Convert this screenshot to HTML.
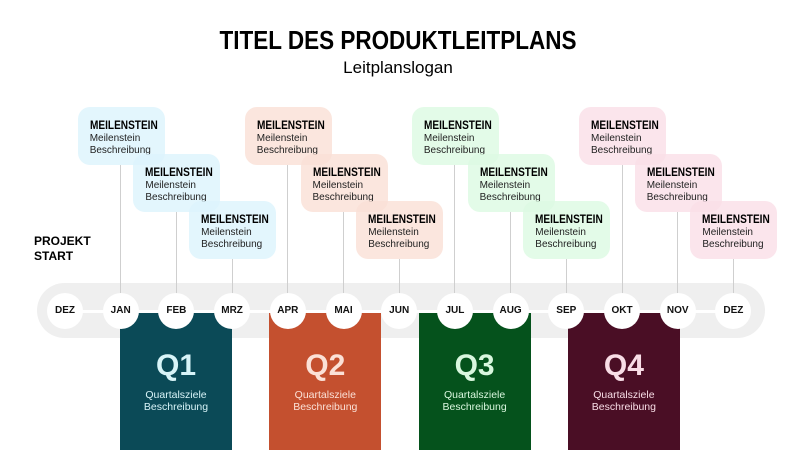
<!DOCTYPE html>
<html><head><meta charset="utf-8"><style>
body{margin:0;width:796px;height:450px;background:#fff;overflow:hidden;font-family:"Liberation Sans",sans-serif;position:relative}
.a{position:absolute}
.title{left:0;width:796px;top:25px;text-align:center;font-weight:bold;font-size:26px;color:#000;transform:scaleX(0.865)}
.sub{left:0;width:796px;top:58px;text-align:center;font-size:17px;color:#000}
.ms{position:absolute;width:87px;height:58px;border-radius:12px;box-sizing:border-box;padding:12px 0 0 12px;font-size:10px;line-height:12px;color:#222}
.ms b{display:block;font-size:12px;color:#000;margin-bottom:2px;transform:scaleX(0.84);transform-origin:left;white-space:nowrap}
.line{position:absolute;width:1px;background:#cfcfcf}
.circ{position:absolute;width:36px;height:36px;border-radius:50%;background:#fff;text-align:center;line-height:36px;font-size:10px;font-weight:bold;color:#111}
.q{position:absolute;top:313px;width:112px;height:137px;text-align:center}
.q .n{font-size:30px;font-weight:bold;margin-top:36px}
.q .d{font-size:10.5px;line-height:12px;margin-top:6px}
</style></head><body>
<div class="a title">TITEL DES PRODUKTLEITPLANS</div>
<div class="a sub">Leitplanslogan</div>
<div class="a" style="left:34px;top:234px;font-weight:bold;font-size:12px;line-height:15px">PROJEKT<br>START</div>
<div class="a" style="left:37px;top:283px;width:728px;height:55px;border-radius:28px;background:#efefef"></div>
<div class="a" style="left:65px;top:310px;width:668px;height:3px;background:#fff"></div>
<div id="root"></div>
<script>
const months=["DEZ","JAN","FEB","MRZ","APR","MAI","JUN","JUL","AUG","SEP","OKT","NOV","DEZ"];
const quarters=["Q1","Q2","Q3","Q4"];
const qColors=["#0b4a57","#c4502f","#05521c","#4a0e25"];
const qText=["#d8f4f8","#fbe1d7","#d9f7de","#f8dde6"];
const msColors=["rgba(220,244,252,0.8)","rgba(250,224,214,0.8)","rgba(220,250,226,0.8)","rgba(250,222,231,0.8)"];
const root=document.getElementById('root');
const mx=i=>65+i*55.7;
for(let m=1;m<=12;m++){
  const tier=(m-1)%3;
  const top=[165,212,259][tier];
  const l=document.createElement('div');
  l.className='line';
  
  
  l.style.left=(mx(m)-0.5)+'px';l.style.top=top+'px';l.style.height=(300-top)+'px';
  root.appendChild(l);
}
quarters.forEach((q,i)=>{
  const d=document.createElement('div');
  d.className='q';
  
  
  d.style.left=(120+i*149.3)+'px';d.style.background=qColors[i];d.style.color=qText[i];
  d.innerHTML='<div class="n">'+q+'</div><div class="d">Quartalsziele<br>Beschreibung</div>';
  root.appendChild(d);
});
months.forEach((m,i)=>{
  const c=document.createElement('div');
  c.className='circ';
  
  
  c.style.left=(mx(i)-18)+'px';c.style.top='293px';c.textContent=m;
  root.appendChild(c);
});
for(let m=1;m<=12;m++){
  const tier=(m-1)%3, qi=Math.floor((m-1)/3);
  const b=document.createElement('div');
  b.className='ms';
  
  
  b.style.left=(mx(m)-43)+'px';b.style.top=[107,154,201][tier]+'px';b.style.background=msColors[qi];
  b.innerHTML='<b>MEILENSTEIN</b>Meilenstein<br>Beschreibung';
  root.appendChild(b);
}
</script>
</body></html>
